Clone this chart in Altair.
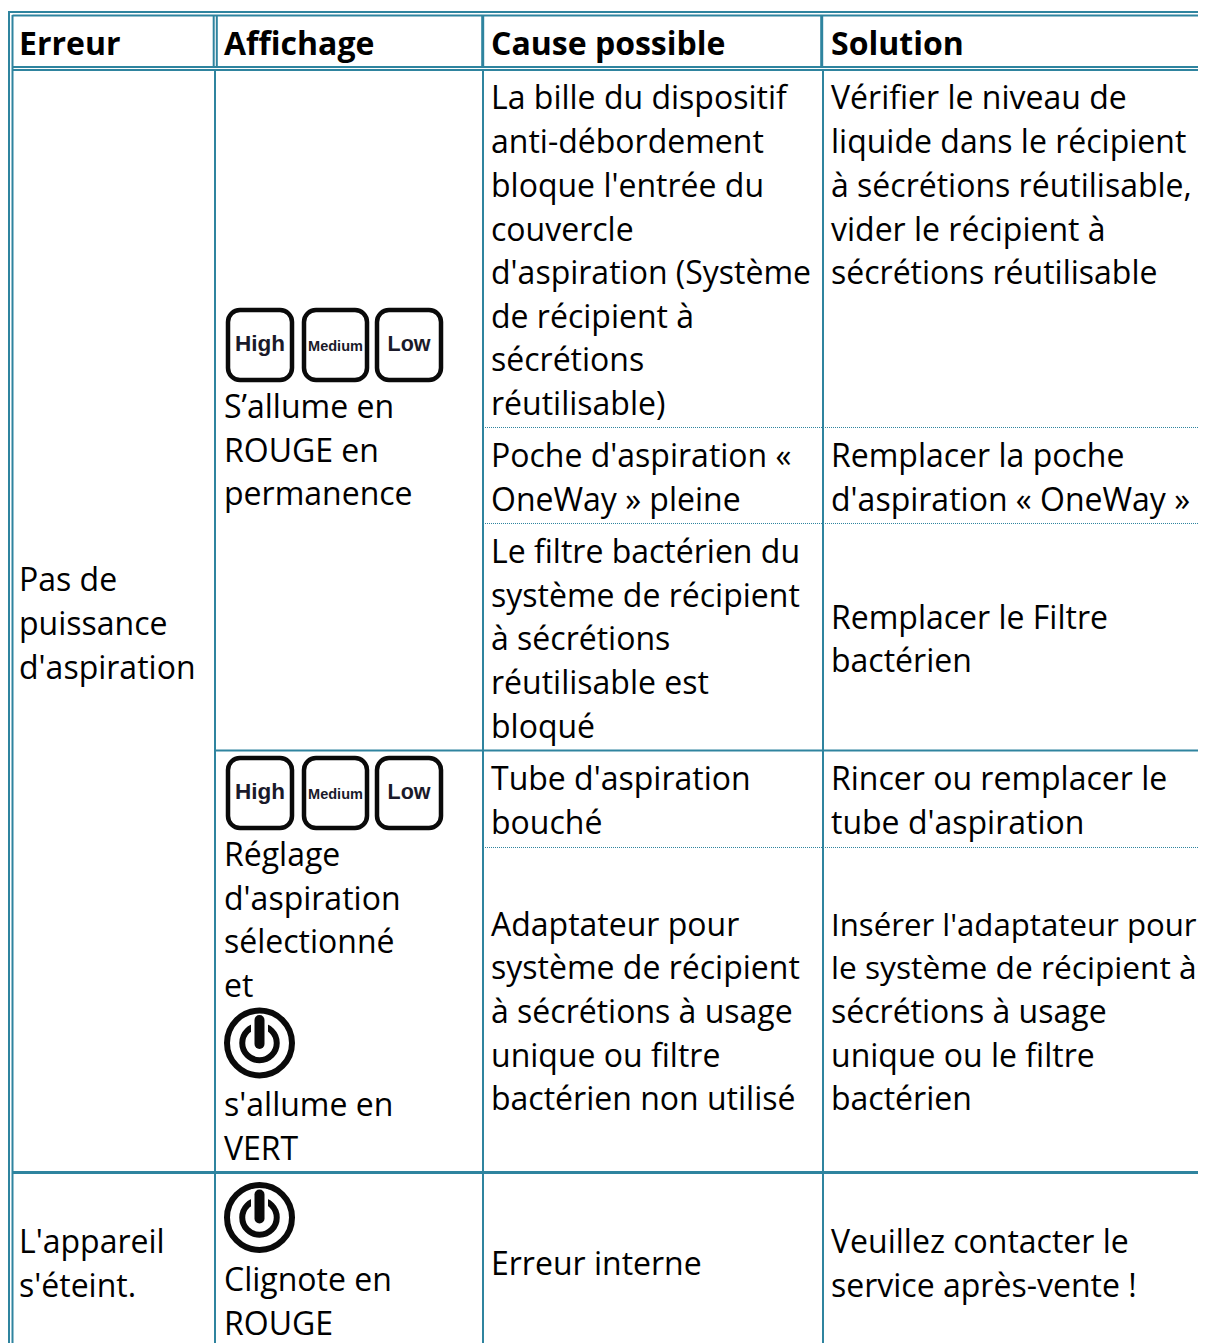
import altair as alt
import pandas as pd

W, H = 1190, 1335
FONT = "Open Sans"
TEAL = "#2f849f"
LH_SIZE = 32
# two long lines reach past the drawable width, so they are set a little smaller
fitted_sizes = {"Insérer l'adaptateur pour": 31.2, "le système de récipient à": 31.7}

# table text: (column left edge, first baseline, lines)
col_left = {"Erreur": 19, "Affichage": 224, "Cause": 491, "Solution": 831}
headers = ["Erreur", "Affichage", "Cause possible", "Solution"]
header_x = [19, 224, 491, 831]
header_base = [55, 55, 55, 55]

body_blocks = [
    ("Erreur", [591, 635, 679], ["Pas de", "puissance", "d'aspiration"]),
    ("Erreur", [1253, 1297], ["L'appareil", "s'éteint."]),
    ("Affichage", [418, 462, 505], ["S’allume en", "ROUGE en", "permanence"]),
    ("Affichage", [866, 910, 953, 997], ["Réglage", "d'aspiration", "sélectionné", "et"]),
    ("Affichage", [1116, 1160], ["s'allume en", "VERT"]),
    ("Affichage", [1291, 1335], ["Clignote en", "ROUGE"]),
    ("Cause", [109, 153, 197, 241, 284, 328, 371, 415],
     ["La bille du dispositif", "anti-débordement", "bloque l'entrée du", "couvercle",
      "d'aspiration (Système", "de récipient à", "sécrétions", "réutilisable)"]),
    ("Cause", [467, 511], ["Poche d'aspiration «", "OneWay » pleine"]),
    ("Cause", [563, 607, 650, 694, 738],
     ["Le filtre bactérien du", "système de récipient", "à sécrétions", "réutilisable est", "bloqué"]),
    ("Cause", [790, 834], ["Tube d'aspiration", "bouché"]),
    ("Cause", [936, 979, 1023, 1067, 1110],
     ["Adaptateur pour", "système de récipient", "à sécrétions à usage", "unique ou filtre", "bactérien non utilisé"]),
    ("Cause", [1275], ["Erreur interne"]),
    ("Solution", [109, 153, 197, 241, 284],
     ["Vérifier le niveau de", "liquide dans le récipient", "à sécrétions réutilisable,",
      "vider le récipient à", "sécrétions réutilisable"]),
    ("Solution", [467, 511], ["Remplacer la poche", "d'aspiration « OneWay »"]),
    ("Solution", [629, 672], ["Remplacer le Filtre", "bactérien"]),
    ("Solution", [790, 834], ["Rincer ou remplacer le", "tube d'aspiration"]),
    ("Solution", [936, 979, 1023, 1067, 1110],
     ["Insérer l'adaptateur pour", "le système de récipient à", "sécrétions à usage", "unique ou le filtre", "bactérien"]),
    ("Solution", [1253, 1297], ["Veuillez contacter le", "service après-vente !"]),
]

# grid lines in page pixels: (x, x2, y, y2, width)
solid_lines = [
    (8, 1206, 12, 12, 2), (9, 9, 11, 1343, 2),
    (12.5, 1206, 15.5, 15.5, 2), (12.5, 12.5, 15, 1343, 2),
    (12.5, 1206, 67, 67, 2), (12.5, 1206, 70, 70, 2),
    (213.7, 213.7, 15, 67, 2), (216.8, 216.8, 15, 67, 2),
    (482.7, 482.7, 15, 67, 3), (821.7, 821.7, 15, 67, 3),
    (215, 215, 70, 1343, 2), (483, 483, 70, 1343, 2), (823, 823, 70, 1343, 2),
    (215, 1206, 750.5, 750.5, 2), (12.5, 1206, 1172.5, 1172.5, 3),
]
dotted_lines = [(483, 1206, 427.5), (483, 1206, 523.5), (483, 1206, 847.5)]

# icons
key_rows = [308, 756]
key_cells = [("High", 226, 294, 22.5), ("Medium", 302, 369, 14.5), ("Low", 375, 443, 21.5)]
key_height = 74
power_icons = [(259.5, 1043), (259.5, 1217.5)]

x_scale = alt.Scale(domain=[8, 8 + W], range=[0, W], nice=False, zero=False)
y_scale = alt.Scale(domain=[8, 8 + H], range=[0, H], nice=False, zero=False)
X = lambda f="x": alt.X(f"{f}:Q", scale=x_scale, axis=None)
Y = lambda f="y": alt.Y(f"{f}:Q", scale=y_scale, axis=None)

layers = []

for x, x2, y, y2, w in solid_lines:
    d = pd.DataFrame([dict(x=x, x2=x2, y=y, y2=y2)])
    layers.append(alt.Chart(d).mark_rule(color=TEAL, strokeWidth=w).encode(
        x=X(), x2="x2:Q", y=Y(), y2="y2:Q"))

d = pd.DataFrame([dict(x=a, x2=b, y=c) for a, b, c in dotted_lines])
layers.append(alt.Chart(d).mark_rule(color=TEAL, strokeWidth=1, strokeDash=[1, 1]).encode(
    x=X(), x2="x2:Q", y=Y()))

rows = [dict(x=x, y=b, t=t) for x, b, t in zip(header_x, header_base, headers)]
layers.append(alt.Chart(pd.DataFrame(rows)).mark_text(
    font=FONT, fontSize=LH_SIZE, fontWeight="bold", align="left", baseline="alphabetic", color="#000000"
).encode(x=X(), y=Y(), text="t:N"))

rows = []
for col, bases, lines in body_blocks:
    rows += [dict(x=col_left[col], y=b, t=t, s=fitted_sizes.get(t, LH_SIZE)) for b, t in zip(bases, lines)]
layers.append(alt.Chart(pd.DataFrame(rows)).mark_text(
    font=FONT, align="left", baseline="alphabetic", color="#000000"
).encode(x=X(), y=Y(), text="t:N", size=alt.Size("s:Q", scale=None, legend=None)))

# keys
rows = [dict(x=a + 2, x2=b - 2, y=top + 2, y2=top + key_height - 2)
        for top in key_rows for _, a, b, _ in key_cells]
layers.append(alt.Chart(pd.DataFrame(rows)).mark_rect(
    fill="white", stroke="#0a0a0a", strokeWidth=4.5, cornerRadius=12
).encode(x=X(), x2="x2:Q", y=Y(), y2="y2:Q"))
rows = [dict(x=(a + b) / 2, y=top + 43, t=t, s=s)
        for top in key_rows for t, a, b, s in key_cells]
layers.append(alt.Chart(pd.DataFrame(rows)).mark_text(
    font="Liberation Sans", fontWeight="bold", align="center", baseline="alphabetic", color="#1a1a2a"
).encode(x=X(), y=Y(), text="t:N",
         size=alt.Size("s:Q", scale=None, legend=None)))

# power icons
d = pd.DataFrame([dict(x=a, y=b) for a, b in power_icons])
layers.append(alt.Chart(d).mark_point(shape="circle", size=4225, filled=False, stroke="#0a0a0a", strokeWidth=6, opacity=1).encode(x=X(), y=Y()))
layers.append(alt.Chart(d).mark_point(shape="circle", size=1190, filled=False, stroke="#0a0a0a", strokeWidth=6, opacity=1).encode(x=X(), y=Y()))
d2 = pd.DataFrame([dict(x=a, y=b - 28, y2=b - 8, y3=b - 23, y4=b + 1) for a, b in power_icons])
layers.append(alt.Chart(d2).mark_rule(color="white", strokeWidth=17).encode(x=X(), y=Y(), y2="y2:Q"))
layers.append(alt.Chart(d2).mark_rule(color="#0a0a0a", strokeWidth=10, strokeCap="round").encode(x=X(), y=Y("y3"), y2="y4:Q"))

chart = alt.layer(*layers).properties(
    width=W, height=H,
    padding={"left": 0, "right": 0, "top": 0, "bottom": 0},
    autosize=alt.AutoSizeParams(type="none"),
).configure_view(stroke=None)

chart.save("out.html", embed_options={"renderer": "svg", "actions": False})
